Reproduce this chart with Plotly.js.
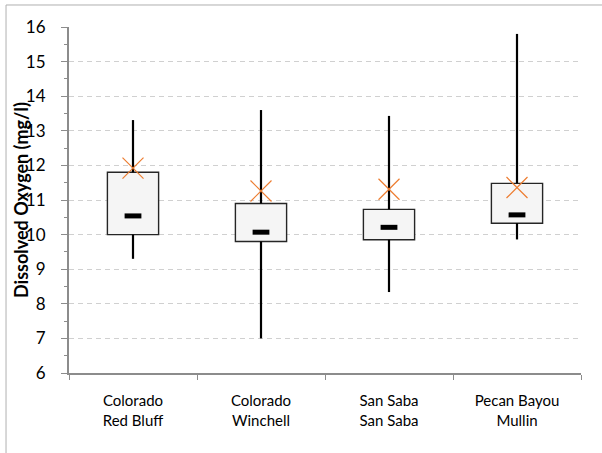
<!DOCTYPE html>
<html>
<head>
<meta charset="utf-8">
<script src="https://cdn.plot.ly/plotly-3.0.1.min.js"></script>
<style>html,body{margin:0;padding:0;background:#fff;}#chart{width:602px;height:453px;}</style>
</head>
<body>
<div id="chart"></div>
<script>
const categories = ["Colorado<br>Red Bluff", "Colorado<br>Winchell", "San Saba<br>San Saba", "Pecan Bayou<br>Mullin"];
const minVals    = [9.30, 7.00, 8.34, 9.86];
const q1Vals     = [10.00, 9.80, 9.85, 10.33];
const medianVals = [10.54, 10.07, 10.21, 10.57];
const q3Vals     = [11.80, 10.90, 10.73, 11.48];
const maxVals    = [13.31, 13.60, 13.43, 15.80];
const meanVals   = [11.92, 11.26, 11.31, 11.36];
const yTicks     = [6, 7, 8, 9, 10, 11, 12, 13, 14, 15, 16];
const yTitle     = "Dissolved Oxygen (mg/l)";

const font = "Lato, 'Liberation Sans', sans-serif";

// whisker segments
const wx = [], wy = [];
categories.forEach((c, i) => {
  wx.push(c, c, null, c, c, null);
  wy.push(minVals[i], q1Vals[i], null, q3Vals[i], maxVals[i], null);
});

const traces = [
  {
    type: "bar", x: categories, base: q1Vals,
    y: q3Vals.map((v, i) => v - q1Vals[i]),
    width: 0.4,
    marker: {color: "#f5f5f5", line: {color: "#262626", width: 1.4}},
    hoverinfo: "skip", showlegend: false
  },
  {
    type: "scatter", mode: "lines", x: wx, y: wy,
    line: {color: "#000000", width: 2.2},
    connectgaps: false, hoverinfo: "skip", showlegend: false
  },
  {
    type: "scatter", mode: "markers", x: categories, y: medianVals,
    marker: {symbol: "line-ew", size: 12, line: {color: "#000000", width: 5}},
    showlegend: false
  },
  {
    type: "scatter", mode: "markers", x: categories, y: meanVals,
    marker: {symbol: "x-thin", size: 21, line: {color: "#ED7D31", width: 1.2}},
    showlegend: false
  }
];

const layout = {
  width: 602, height: 453,
  margin: {l: 69, r: 21, t: 27, b: 80},
  paper_bgcolor: "#ffffff", plot_bgcolor: "#ffffff",
  font: {family: font, color: "#000000"},
  showlegend: false,
  xaxis: {
    type: "category",
    range: [-0.5, 3.5],
    showline: true, linecolor: "#8c8c8c", linewidth: 2,
    ticks: "outside", tickson: "boundaries", ticklen: 5, tickcolor: "#8c8c8c", tickwidth: 1,
    showgrid: false, zeroline: false,
    tickfont: {family: font, size: 15, color: "#000000"},
    ticklabelstandoff: 13
  },
  yaxis: {
    range: [6, 16],
    tickvals: yTicks,
    ticktext: yTicks.map(String),
    showline: true, linecolor: "#8c8c8c", linewidth: 2,
    ticks: "outside", ticklen: 6, tickcolor: "#8c8c8c", tickwidth: 1,
    minor: {dtick: 0.5, ticks: "outside", ticklen: 3, tickcolor: "#8c8c8c", showgrid: false},
    showgrid: true, gridcolor: "#d0d0d0", gridwidth: 1, griddash: "5px,4px",
    zeroline: false,
    tickfont: {family: font, size: 17, color: "#000000"},
    ticklabelstandoff: 12
  },
  annotations: [
    {text: "<b>" + yTitle + "</b>", xref: "paper", yref: "paper", x: -0.0938, y: 0.5,
     xanchor: "center", yanchor: "middle", textangle: -90, showarrow: false,
     font: {family: font, size: 18, color: "#000000"}}
  ],
  shapes: [
    {type: "rect", xref: "paper", yref: "paper", x0: -0.123, x1: 1.2, y0: -0.3, y1: 1.0636,
     line: {color: "#b0b0b0", width: 1}, fillcolor: "rgba(0,0,0,0)", layer: "below"}
  ]
};

Plotly.newPlot("chart", traces, layout, {displayModeBar: false, staticPlot: true});
</script>
</body>
</html>
